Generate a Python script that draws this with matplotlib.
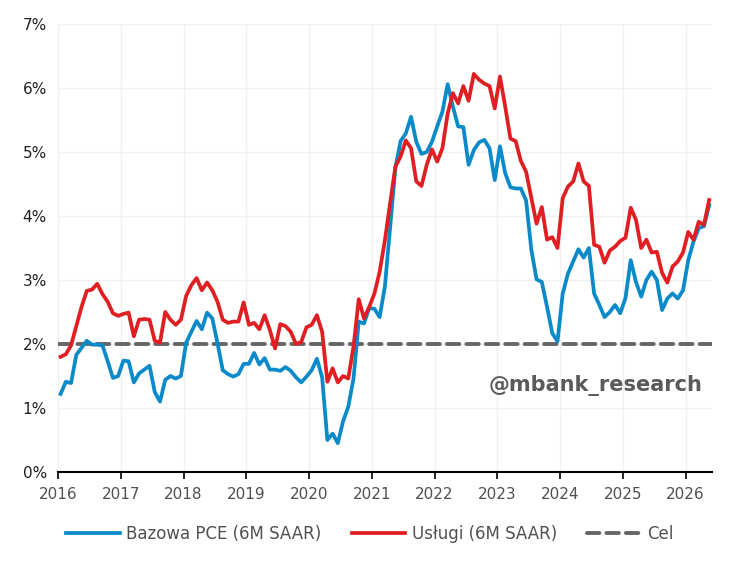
import matplotlib
matplotlib.use("Agg")
import matplotlib.pyplot as plt
from matplotlib.ticker import FuncFormatter, MultipleLocator
import numpy as np

start_year = 2016
core_pce = [1.22, 1.41, 1.39, 1.83, 1.94, 2.05, 1.99, 1.99, 1.98, 1.73, 1.47, 1.50,
            1.74, 1.73, 1.40, 1.54, 1.60, 1.66, 1.25, 1.10, 1.44, 1.50, 1.46, 1.50,
            2.02, 2.19, 2.36, 2.23, 2.49, 2.40, 2.01, 1.59, 1.53, 1.49, 1.53, 1.69,
            1.69, 1.86, 1.68, 1.78, 1.60, 1.60, 1.58, 1.64, 1.58, 1.48, 1.40, 1.49,
            1.59, 1.77, 1.48, 0.50, 0.60, 0.45, 0.79, 1.02, 1.46, 2.35, 2.32, 2.56,
            2.55, 2.42, 2.90, 3.82, 4.75, 5.17, 5.29, 5.55, 5.16, 4.97, 5.00, 5.16,
            5.40, 5.63, 6.06, 5.71, 5.40, 5.39, 4.80, 5.03, 5.15, 5.19, 5.06, 4.56,
            5.09, 4.67, 4.45, 4.43, 4.43, 4.24, 3.47, 3.01, 2.97, 2.58, 2.17, 2.04,
            2.79, 3.10, 3.29, 3.48, 3.35, 3.50, 2.79, 2.61, 2.42, 2.50, 2.61, 2.48,
            2.72, 3.31, 2.97, 2.74, 3.00, 3.13, 3.00, 2.53, 2.71, 2.79, 2.71, 2.84,
            3.31, 3.60, 3.81, 3.84, 4.17]
services = [1.80, 1.84, 1.98, 2.28, 2.58, 2.83, 2.85, 2.94, 2.78, 2.66, 2.48, 2.44,
            2.47, 2.49, 2.12, 2.38, 2.39, 2.38, 2.05, 2.02, 2.50, 2.38, 2.30, 2.38,
            2.75, 2.92, 3.03, 2.84, 2.96, 2.84, 2.66, 2.38, 2.33, 2.35, 2.35, 2.65,
            2.30, 2.33, 2.23, 2.45, 2.22, 1.93, 2.31, 2.28, 2.19, 2.00, 2.03, 2.26,
            2.30, 2.45, 2.19, 1.41, 1.62, 1.40, 1.50, 1.46, 1.96, 2.70, 2.40, 2.58,
            2.79, 3.13, 3.62, 4.20, 4.77, 4.93, 5.18, 5.06, 4.54, 4.47, 4.80, 5.04,
            4.85, 5.06, 5.60, 5.92, 5.76, 6.03, 5.80, 6.22, 6.13, 6.07, 6.03, 5.68,
            6.18, 5.71, 5.21, 5.17, 4.86, 4.69, 4.28, 3.88, 4.14, 3.63, 3.67, 3.50,
            4.28, 4.46, 4.54, 4.82, 4.54, 4.47, 3.55, 3.52, 3.27, 3.46, 3.52, 3.61,
            3.66, 4.13, 3.94, 3.50, 3.63, 3.43, 3.44, 3.11, 2.96, 3.21, 3.29, 3.43,
            3.75, 3.63, 3.91, 3.86, 4.25]
target = 2.0
year_ticks = list(range(2016, 2027))
labels = ["Bazowa PCE (6M SAAR)", "Usługi (6M SAAR)", "Cel"]

x = start_year + (np.arange(len(core_pce)) + 0.5) / 12.0

plt.rcParams['font.family'] = ['DejaVu Sans']
fig = plt.figure(figsize=(7.35, 5.63), dpi=100)
ax = fig.add_axes([58/735, (563-472)/563, (712-58)/735, (472-24)/563])

text_col = '#505050'
ax.plot(x, core_pce, color='#0A8AC9', lw=2.7, label=labels[0], zorder=3,
        solid_joinstyle='round')
ax.plot(x, services, color='#E01F22', lw=2.7, label=labels[1], zorder=4,
        solid_joinstyle='round')
ax.axhline(target, color='#666666', lw=2.8, ls=(0, (3.2, 1.8)), dash_capstyle='round',
           label=labels[2], zorder=2)

ax.set_xlim(2016, 2026.42)
ax.set_ylim(0, 7)
ax.yaxis.set_major_locator(MultipleLocator(1))
ax.yaxis.set_major_formatter(FuncFormatter(lambda v, p: f"{v:.0f}%"))
ax.set_xticks(year_ticks)
ax.set_xticklabels([str(y) for y in year_ticks])
ax.grid(True, color='#F0F0F0', lw=1.0, zorder=0)
for s in ['top', 'right', 'left']:
    ax.spines[s].set_visible(False)
ax.spines['bottom'].set_color('black')
ax.spines['bottom'].set_linewidth(1.5)
ax.tick_params(axis='x', colors='black', length=5, width=1.2, labelcolor=text_col,
               labelsize=11, pad=6)
ax.tick_params(axis='y', length=0, labelcolor='#202020', labelsize=11, pad=8)

ax.text(0.985, 0.192, "@mbank_research", transform=ax.transAxes, ha='right', va='center',
        fontsize=15, fontweight='bold', color='#5A5A5A')

leg = fig.legend(loc='center', bbox_to_anchor=(0.503, (563-534)/563), ncol=3, frameon=False,
                 fontsize=12, handlelength=3.2, columnspacing=1.8, handletextpad=0.4)
for t in leg.get_texts():
    t.set_color(text_col)

fig.savefig("out.png", dpi=100)
